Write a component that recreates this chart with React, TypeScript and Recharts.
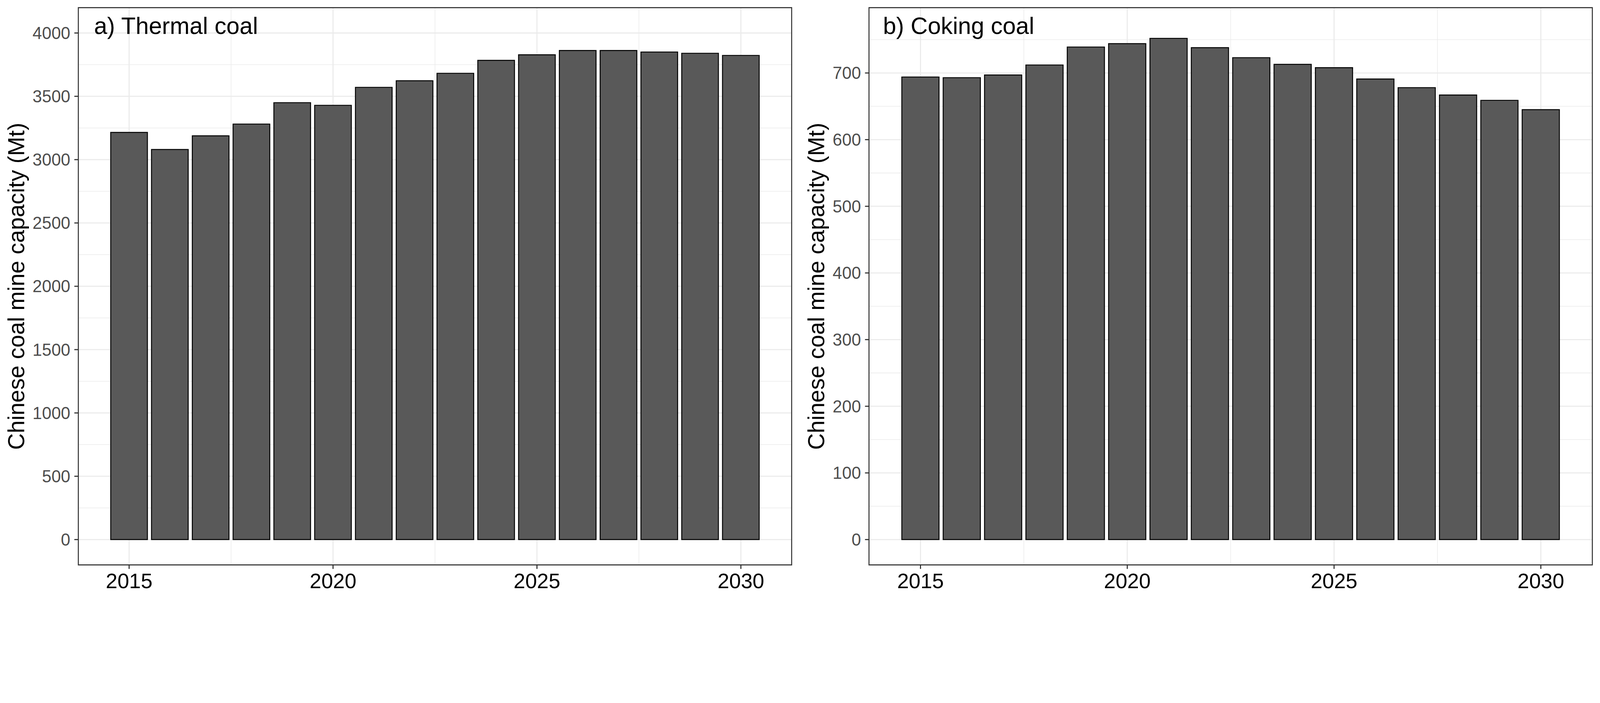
import { BarChart, Bar, XAxis, YAxis, CartesianGrid, ReferenceArea } from 'recharts'

const years = [2015, 2016, 2017, 2018, 2019, 2020, 2021, 2022, 2023, 2024, 2025, 2026, 2027, 2028, 2029, 2030]
const thermalCoal = [3215, 3080, 3188, 3281, 3450, 3429, 3571, 3623, 3682, 3784, 3828, 3862, 3862, 3850, 3840, 3823]
const cokingCoal = [694, 693, 697, 712, 739, 744, 752, 738, 723, 713, 708, 691, 678, 667, 659, 645]

const xTicks = [2015, 2020, 2025, 2030]
const xMinorTicks = [2017.5, 2022.5, 2027.5]
const thermalTicks = [0, 500, 1000, 1500, 2000, 2500, 3000, 3500, 4000]
const thermalMinor = [250, 750, 1250, 1750, 2250, 2750, 3250, 3750]
const cokingTicks = [0, 100, 200, 300, 400, 500, 600, 700]
const cokingMinor = [50, 150, 250, 350, 450, 550, 650, 750]

const X_DOMAIN: [number, number] = [2013.755, 2031.245]
const PAGE_W = 4800
const PAGE_H = 1800
const CHART_W = 2400
const CHART_H = 1800
const TOP = 23
const X_AXIS_H = 105
const FONT = '"Liberation Sans", Arial, sans-serif'

type PanelProps = {
  title: string
  titleOffset: number
  values: number[]
  yDomain: [number, number]
  yTicks: number[]
  yMinor: number[]
  yAxisWidth: number
  marginRight: number
}

function Panel({ title, titleOffset, values, yDomain, yTicks, yMinor, yAxisWidth, marginRight }: PanelProps) {
  const data = years.map((year, i) => ({ year, value: values[i] }))
  const plotW = CHART_W - yAxisWidth - marginRight
  const plotH = CHART_H - TOP - X_AXIS_H
  const barSize = (plotW / (X_DOMAIN[1] - X_DOMAIN[0])) * 0.9
  const midY = TOP + plotH / 2

  return (
    <div style={{ position: 'relative', width: CHART_W, height: CHART_H }}>
      <BarChart
        width={CHART_W}
        height={CHART_H}
        data={data}
        margin={{ top: TOP, right: marginRight, bottom: 0, left: 0 }}
      >
        <CartesianGrid
          stroke="#EBEBEB"
          strokeWidth={1.8}
          horizontalValues={yMinor}
          verticalValues={xMinorTicks}
        />
        <CartesianGrid
          stroke="#EBEBEB"
          strokeWidth={3.3}
          horizontalValues={yTicks}
          verticalValues={xTicks}
        />
        <XAxis
          type="number"
          dataKey="year"
          domain={X_DOMAIN}
          ticks={xTicks}
          interval={0}
          allowDataOverflow
          height={X_AXIS_H}
          axisLine={false}
          tickSize={12}
          tickMargin={13}
          tickLine={{ stroke: '#333333', strokeWidth: 3.3 }}
          tick={{ fill: '#000000', fontSize: 63, fontFamily: FONT }}
        />
        <YAxis
          type="number"
          domain={yDomain}
          ticks={yTicks}
          interval={0}
          allowDataOverflow
          width={yAxisWidth}
          axisLine={false}
          tickSize={12}
          tickMargin={12}
          tickLine={{ stroke: '#333333', strokeWidth: 3.3 }}
          tick={{ fill: '#4D4D4D', fontSize: 51, fontFamily: FONT }}
        />
        <Bar
          dataKey="value"
          fill="#595959"
          stroke="#000000"
          strokeWidth={2.8}
          barSize={barSize}
          isAnimationActive={false}
        />
        <ReferenceArea
          x1={X_DOMAIN[0]}
          x2={X_DOMAIN[1]}
          y1={yDomain[0]}
          y2={yDomain[1]}
          fill="none"
          fillOpacity={0}
          stroke="#333333"
          strokeWidth={3}
        />
      </BarChart>
      <svg
        width={CHART_W}
        height={CHART_H}
        style={{ position: 'absolute', left: 0, top: 0, pointerEvents: 'none' }}
      >
        <text
          x={73}
          y={midY}
          transform={`rotate(-90, 73, ${midY})`}
          textAnchor="middle"
          fontSize={69}
          fontFamily={FONT}
          fill="#000000"
        >
          Chinese coal mine capacity (Mt)
        </text>
        <text x={yAxisWidth + titleOffset} y={102} fontSize={71} fontFamily={FONT} fill="#000000">
          {title}
        </text>
      </svg>
    </div>
  )
}

export default function App() {
  // the page may be laid out narrower than 4800 css px; fit the figure to the viewport width
  const vw = typeof window !== 'undefined' ? window.innerWidth : PAGE_W
  const k = Math.min(1, vw / PAGE_W)

  return (
    <div
      style={{
        position: 'absolute',
        left: 0,
        top: 0,
        width: PAGE_W * k,
        height: PAGE_H * k,
        overflow: 'hidden',
        background: '#ffffff',
      }}
    >
      <div
        style={{
          width: PAGE_W,
          height: PAGE_H,
          display: 'flex',
          transform: `scale(${k})`,
          transformOrigin: '0 0',
        }}
      >
        <Panel
          title="a) Thermal coal"
          titleOffset={47}
          values={thermalCoal}
          yDomain={[-200, 4200]}
          yTicks={thermalTicks}
          yMinor={thermalMinor}
          yAxisWidth={235}
          marginRight={25}
        />
        <Panel
          title="b) Coking coal"
          titleOffset={42}
          values={cokingCoal}
          yDomain={[-38, 798]}
          yTicks={cokingTicks}
          yMinor={cokingMinor}
          yAxisWidth={207}
          marginRight={23}
        />
      </div>
    </div>
  )
}
